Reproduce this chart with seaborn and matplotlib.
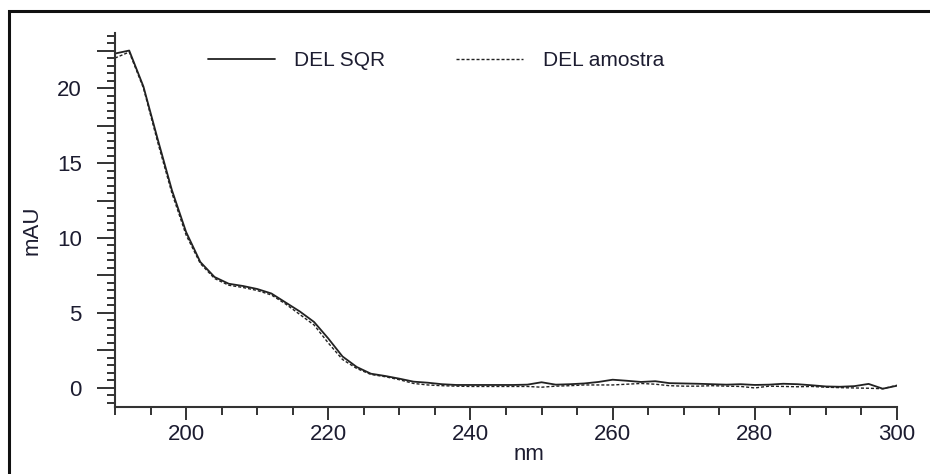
import numpy as np
import pandas as pd
import matplotlib
matplotlib.use("Agg")
import matplotlib.pyplot as plt
from matplotlib.ticker import MultipleLocator, FuncFormatter
from matplotlib.patches import Rectangle
import seaborn as sns

wavelength = [190, 192, 194, 196, 198, 200, 202, 204, 206, 208,
              210, 212, 214, 216, 218, 220, 222, 224, 226, 228,
              230, 232, 234, 236, 238, 240, 242, 244, 246, 248,
              250, 252, 254, 256, 258, 260, 262, 264, 266, 268,
              270, 272, 274, 276, 278, 280, 282, 284, 286, 288,
              290, 292, 294, 296, 298, 300]

del_sqr = [22.3, 22.5, 20.1, 16.6, 13.2, 10.4, 8.4, 7.4, 6.95, 6.8,
           6.6, 6.3, 5.7, 5.1, 4.4, 3.3, 2.1, 1.4, 0.95, 0.8,
           0.62, 0.42, 0.35, 0.25, 0.2, 0.2, 0.2, 0.2, 0.2, 0.22,
           0.38, 0.22, 0.25, 0.3, 0.4, 0.55, 0.48, 0.4, 0.45, 0.32,
           0.3, 0.28, 0.25, 0.22, 0.25, 0.2, 0.22, 0.28, 0.25, 0.18,
           0.1, 0.08, 0.12, 0.27, -0.05, 0.15]

del_amostra = [22.0, 22.4, 20.0, 16.4, 13.0, 10.2, 8.3, 7.3, 6.85, 6.7,
               6.5, 6.2, 5.6, 4.9, 4.2, 3.0, 1.9, 1.3, 0.9, 0.75,
               0.55, 0.3, 0.2, 0.15, 0.12, 0.1, 0.1, 0.1, 0.1, 0.1,
               0.05, 0.12, 0.15, 0.2, 0.2, 0.2, 0.25, 0.3, 0.25, 0.15,
               0.12, 0.12, 0.15, 0.12, 0.1, 0.0, 0.12, 0.1, 0.08, 0.1,
               0.05, 0.02, 0.0, -0.02, -0.05, 0.18]

series_names = ["DEL SQR", "DEL amostra"]

sns.set_style("white")
plt.rcParams["font.family"] = ["Liberation Sans", "DejaVu Sans"]

fig = plt.figure(figsize=(9.30, 4.74), dpi=100)
ax = fig.add_axes([115 / 930, 1 - 407 / 474, (897 - 115) / 930, (407 - 33) / 474])

df1 = pd.DataFrame({"nm": wavelength, "mAU": del_sqr})
df2 = pd.DataFrame({"nm": wavelength, "mAU": del_amostra})

ink = "#222222"
sns.lineplot(data=df1, x="nm", y="mAU", ax=ax, color=ink, linewidth=1.3,
             label=series_names[0])
sns.lineplot(data=df2, x="nm", y="mAU", ax=ax, color=ink, linewidth=1.0,
             linestyle=(0, (2.2, 1.4)), label=series_names[1])

ax.set_xlim(190, 300)
ax.set_ylim(-1.27, 23.67)

for s in ["top", "right"]:
    ax.spines[s].set_visible(False)
for s in ["left", "bottom"]:
    ax.spines[s].set_color("#333333")
    ax.spines[s].set_linewidth(1.5)

txt = "#1c1c30"
ax.xaxis.set_major_locator(MultipleLocator(20))
ax.xaxis.set_minor_locator(MultipleLocator(5))
ax.yaxis.set_major_locator(MultipleLocator(2.5))
ax.yaxis.set_minor_locator(MultipleLocator(0.5))
ax.yaxis.set_major_formatter(FuncFormatter(
    lambda v, p: f"{int(round(v))}" if abs(v / 5 - round(v / 5)) < 1e-6 else ""))
ax.xaxis.set_major_formatter(FuncFormatter(lambda v, p: f"{int(round(v))}"))

ax.tick_params(axis="x", which="major", direction="out", length=9.5, width=1.4,
               color="#333333", labelsize=16, labelcolor=txt, pad=3, bottom=True)
ax.tick_params(axis="x", which="minor", direction="out", length=6, width=1.4,
               color="#333333", bottom=True)
ax.tick_params(axis="y", which="major", direction="out", length=13, width=1.4,
               color="#333333", labelsize=16, labelcolor=txt, pad=11, left=True)
ax.tick_params(axis="y", which="minor", direction="out", length=6, width=1.4,
               color="#333333", left=True)

ax.set_xlabel("nm", fontsize=16, color=txt)
ax.set_ylabel("mAU", fontsize=16, color=txt)
ax.xaxis.set_label_coords(0.53, -0.10)
ax.yaxis.set_label_coords(-0.093, 0.473)

leg = ax.legend(loc="upper left", bbox_to_anchor=((208 - 115) / 782, 0.952),
                ncol=2, frameon=False, fontsize=15, handlelength=3.2,
                handletextpad=0.95, columnspacing=3.4, borderpad=0,
                borderaxespad=0)
for t in leg.get_texts():
    t.set_color(txt)

fig.patches.append(Rectangle((9 / 930, -0.2), 1.2, 1.2 - 11 / 474,
                             transform=fig.transFigure, fill=False,
                             edgecolor="#111111", linewidth=2.2, zorder=10))

fig.savefig("out.png", dpi=100)
